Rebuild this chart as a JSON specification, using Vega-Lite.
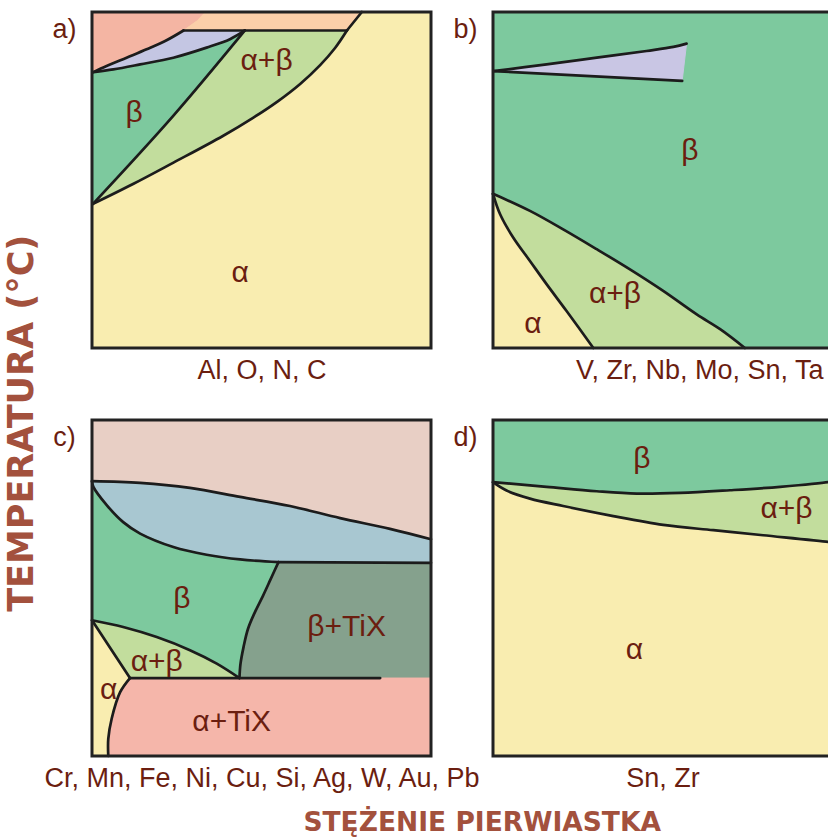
{
"$schema": "https://vega.github.io/schema/vega-lite/v6.json",
"background": "white",
"padding": {"left": 5, "top": 10, "right": 0, "bottom": 0},
"title": {"text": "TEMPERATURA (°C)", "orient": "left", "anchor": "middle", "font": "DejaVu Sans", "fontWeight": "bold", "fontSize": 35, "color": "#A3513D", "offset": 2},
"datasets": {
"frame": [{"x":0,"x2":100,"y":0,"y2":100}],
"a_poly": [
{"p":"a1","x":0,"y":100},{"p":"a1","x":33.3,"y":100},{"p":"a1","x":30.9,"y":97.3},{"p":"a1","x":27,"y":94.5},{"p":"a1","x":22,"y":91.6},{"p":"a1","x":16.1,"y":88.9},{"p":"a1","x":10.2,"y":86.4},{"p":"a1","x":4.3,"y":83.9},{"p":"a1","x":0.4,"y":82.1},{"p":"a1","x":0,"y":82.1},
{"p":"a2","x":33.3,"y":100},{"p":"a2","x":79.6,"y":100},{"p":"a2","x":75.2,"y":94.5},{"p":"a2","x":27,"y":94.5},{"p":"a2","x":30.9,"y":97.3},
{"p":"a3","x":27,"y":94.5},{"p":"a3","x":22,"y":91.6},{"p":"a3","x":16.1,"y":88.9},{"p":"a3","x":10.2,"y":86.4},{"p":"a3","x":4.3,"y":83.9},{"p":"a3","x":0.4,"y":82.1},{"p":"a3","x":6.3,"y":82.9},{"p":"a3","x":14.2,"y":84.4},{"p":"a3","x":24,"y":86.4},{"p":"a3","x":33.8,"y":89.4},{"p":"a3","x":40.7,"y":91.9},{"p":"a3","x":45.1,"y":94.5},
{"p":"a4","x":0,"y":82.1},{"p":"a4","x":0.4,"y":82.1},{"p":"a4","x":6.3,"y":82.9},{"p":"a4","x":14.2,"y":84.4},{"p":"a4","x":24,"y":86.4},{"p":"a4","x":33.8,"y":89.4},{"p":"a4","x":40.7,"y":91.9},{"p":"a4","x":45.1,"y":94.5},{"p":"a4","x":23.9,"y":69},{"p":"a4","x":0.3,"y":42.9},{"p":"a4","x":0,"y":42.9},
{"p":"a5","x":45.1,"y":94.5},{"p":"a5","x":75.2,"y":94.5},{"p":"a5","x":71.7,"y":89.3},{"p":"a5","x":67.3,"y":84.2},{"p":"a5","x":61.4,"y":78.6},{"p":"a5","x":54.9,"y":73.5},{"p":"a5","x":47.5,"y":68.5},{"p":"a5","x":38.6,"y":63.1},{"p":"a5","x":23.9,"y":55.1},{"p":"a5","x":12.1,"y":48.8},{"p":"a5","x":0.3,"y":42.9},{"p":"a5","x":23.9,"y":69}
],
"a_line": [
{"l":"1","x":0.4,"y":82.1},{"l":"1","x":4.3,"y":83.9},{"l":"1","x":10.2,"y":86.4},{"l":"1","x":16.1,"y":88.9},{"l":"1","x":22,"y":91.6},{"l":"1","x":27,"y":94.5},
{"l":"2","x":27,"y":94.5},{"l":"2","x":75.2,"y":94.5},
{"l":"3","x":0.4,"y":82.1},{"l":"3","x":6.3,"y":82.9},{"l":"3","x":14.2,"y":84.4},{"l":"3","x":24,"y":86.4},{"l":"3","x":33.8,"y":89.4},{"l":"3","x":40.7,"y":91.9},{"l":"3","x":45.1,"y":94.5},
{"l":"4","x":45.1,"y":94.5},{"l":"4","x":23.9,"y":69},{"l":"4","x":0.3,"y":42.9},
{"l":"5","x":0.3,"y":42.9},{"l":"5","x":12.1,"y":48.8},{"l":"5","x":23.9,"y":55.1},{"l":"5","x":38.6,"y":63.1},{"l":"5","x":47.5,"y":68.5},{"l":"5","x":54.9,"y":73.5},{"l":"5","x":61.4,"y":78.6},{"l":"5","x":67.3,"y":84.2},{"l":"5","x":71.7,"y":89.3},{"l":"5","x":75.2,"y":94.5},
{"l":"6","x":75.2,"y":94.5},{"l":"6","x":79.6,"y":100}
],
"a_text": [{"t":"β","x":12.4,"y":69.9},{"t":"α+β","x":51.5,"y":85.4},{"t":"α","x":43.7,"y":22.4}],
"b_poly": [
{"p":"b1","x":0.1,"y":82.4},{"p":"b1","x":15.8,"y":84.4},{"p":"b1","x":30.6,"y":86.4},{"p":"b1","x":45.3,"y":88.4},{"p":"b1","x":53.2,"y":89.6},{"p":"b1","x":57.1,"y":90.6},{"p":"b1","x":55.8,"y":79.5},
{"p":"b2","x":0,"y":45.9},{"p":"b2","x":10.9,"y":40.8},{"p":"b2","x":20.7,"y":35.3},{"p":"b2","x":30.6,"y":29.4},{"p":"b2","x":40.4,"y":23.4},{"p":"b2","x":50.2,"y":17},{"p":"b2","x":60.1,"y":10},{"p":"b2","x":67,"y":5.6},{"p":"b2","x":74.3,"y":0},{"p":"b2","x":29.6,"y":0},{"p":"b2","x":21.7,"y":11},{"p":"b2","x":15.8,"y":19},{"p":"b2","x":10.9,"y":25.9},{"p":"b2","x":6,"y":32.8},{"p":"b2","x":2.1,"y":39.8},
{"p":"b3","x":0,"y":45.9},{"p":"b3","x":2.1,"y":39.8},{"p":"b3","x":6,"y":32.8},{"p":"b3","x":10.9,"y":25.9},{"p":"b3","x":15.8,"y":19},{"p":"b3","x":21.7,"y":11},{"p":"b3","x":29.6,"y":0},{"p":"b3","x":0,"y":0}
],
"b_line": [
{"l":"1","x":0.1,"y":82.4},{"l":"1","x":15.8,"y":84.4},{"l":"1","x":30.6,"y":86.4},{"l":"1","x":45.3,"y":88.4},{"l":"1","x":53.2,"y":89.6},{"l":"1","x":57.1,"y":90.6},
{"l":"2","x":0.1,"y":82.4},{"l":"2","x":55.8,"y":79.5},
{"l":"3","x":0,"y":45.9},{"l":"3","x":10.9,"y":40.8},{"l":"3","x":20.7,"y":35.3},{"l":"3","x":30.6,"y":29.4},{"l":"3","x":40.4,"y":23.4},{"l":"3","x":50.2,"y":17},{"l":"3","x":60.1,"y":10},{"l":"3","x":67,"y":5.6},{"l":"3","x":74.3,"y":0},
{"l":"4","x":0,"y":45.9},{"l":"4","x":2.1,"y":39.8},{"l":"4","x":6,"y":32.8},{"l":"4","x":10.9,"y":25.9},{"l":"4","x":15.8,"y":19},{"l":"4","x":21.7,"y":11},{"l":"4","x":29.6,"y":0}
],
"b_text": [{"t":"β","x":58.1,"y":58.6},{"t":"α+β","x":36,"y":16.1},{"t":"α","x":11.8,"y":7.1}],
"c_poly": [
{"p":"c1","x":0,"y":100},{"p":"c1","x":100,"y":100},{"p":"c1","x":100,"y":64.5},{"p":"c1","x":87.9,"y":67.6},{"p":"c1","x":73.2,"y":70.8},{"p":"c1","x":58.4,"y":74.4},{"p":"c1","x":43.7,"y":77.1},{"p":"c1","x":28.9,"y":79.8},{"p":"c1","x":14.2,"y":81.3},{"p":"c1","x":0,"y":81.8},
{"p":"c2","x":0,"y":81.8},{"p":"c2","x":14.2,"y":81.3},{"p":"c2","x":28.9,"y":79.8},{"p":"c2","x":43.7,"y":77.1},{"p":"c2","x":58.4,"y":74.4},{"p":"c2","x":73.2,"y":70.8},{"p":"c2","x":87.9,"y":67.6},{"p":"c2","x":100,"y":64.5},{"p":"c2","x":100,"y":57.5},{"p":"c2","x":55,"y":57.7},{"p":"c2","x":43.7,"y":58.5},{"p":"c2","x":33.8,"y":59.9},{"p":"c2","x":24,"y":62.2},{"p":"c2","x":14.2,"y":66.2},{"p":"c2","x":9.2,"y":69.6},{"p":"c2","x":4.4,"y":74.6},{"p":"c2","x":0.4,"y":80.1},
{"p":"c3","x":0,"y":81.8},{"p":"c3","x":0.4,"y":80.1},{"p":"c3","x":4.4,"y":74.6},{"p":"c3","x":9.2,"y":69.6},{"p":"c3","x":14.2,"y":66.2},{"p":"c3","x":24,"y":62.2},{"p":"c3","x":33.8,"y":59.9},{"p":"c3","x":43.7,"y":58.5},{"p":"c3","x":55,"y":57.7},{"p":"c3","x":52.6,"y":52.4},{"p":"c3","x":50.4,"y":47.6},{"p":"c3","x":48.1,"y":42.9},{"p":"c3","x":46,"y":37.8},{"p":"c3","x":44.7,"y":32.4},{"p":"c3","x":43.8,"y":27.4},{"p":"c3","x":43.5,"y":23.2},{"p":"c3","x":36.8,"y":27.5},{"p":"c3","x":28.9,"y":31.5},{"p":"c3","x":19.1,"y":35.4},{"p":"c3","x":9.2,"y":38.4},{"p":"c3","x":0,"y":40.4},
{"p":"c4","x":55,"y":57.7},{"p":"c4","x":100,"y":57.5},{"p":"c4","x":100,"y":23.2},{"p":"c4","x":43.5,"y":23.2},{"p":"c4","x":43.8,"y":27.4},{"p":"c4","x":44.7,"y":32.4},{"p":"c4","x":46,"y":37.8},{"p":"c4","x":48.1,"y":42.9},{"p":"c4","x":50.4,"y":47.6},{"p":"c4","x":52.6,"y":52.4},
{"p":"c5","x":0,"y":40.4},{"p":"c5","x":9.2,"y":38.4},{"p":"c5","x":19.1,"y":35.4},{"p":"c5","x":28.9,"y":31.5},{"p":"c5","x":36.8,"y":27.5},{"p":"c5","x":43.5,"y":23.2},{"p":"c5","x":11.2,"y":23.2},
{"p":"c6","x":11.2,"y":23.2},{"p":"c6","x":100,"y":23.2},{"p":"c6","x":100,"y":0},{"p":"c6","x":4.8,"y":0},{"p":"c6","x":4.8,"y":5.1},{"p":"c6","x":5.8,"y":11.1},{"p":"c6","x":8.3,"y":19}
],
"c_line": [
{"l":"1","x":0,"y":81.8},{"l":"1","x":14.2,"y":81.3},{"l":"1","x":28.9,"y":79.8},{"l":"1","x":43.7,"y":77.1},{"l":"1","x":58.4,"y":74.4},{"l":"1","x":73.2,"y":70.8},{"l":"1","x":87.9,"y":67.6},{"l":"1","x":100,"y":64.5},
{"l":"2","x":0,"y":81.8},{"l":"2","x":0.4,"y":80.1},{"l":"2","x":4.4,"y":74.6},{"l":"2","x":9.2,"y":69.6},{"l":"2","x":14.2,"y":66.2},{"l":"2","x":24,"y":62.2},{"l":"2","x":33.8,"y":59.9},{"l":"2","x":43.7,"y":58.5},{"l":"2","x":55,"y":57.7},
{"l":"8","x":55,"y":57.7},{"l":"8","x":100,"y":57.5},
{"l":"3","x":55,"y":57.7},{"l":"3","x":52.6,"y":52.4},{"l":"3","x":50.4,"y":47.6},{"l":"3","x":48.1,"y":42.9},{"l":"3","x":46,"y":37.8},{"l":"3","x":44.7,"y":32.4},{"l":"3","x":43.8,"y":27.4},{"l":"3","x":43.5,"y":23.2},
{"l":"4","x":0,"y":40.4},{"l":"4","x":9.2,"y":38.4},{"l":"4","x":19.1,"y":35.4},{"l":"4","x":28.9,"y":31.5},{"l":"4","x":36.8,"y":27.5},{"l":"4","x":43.5,"y":23.2},
{"l":"5","x":0,"y":40.4},{"l":"5","x":11.2,"y":23.2},
{"l":"6","x":11.2,"y":23.2},{"l":"6","x":85,"y":23.2},
{"l":"7","x":11.2,"y":23.2},{"l":"7","x":8.3,"y":19},{"l":"7","x":5.8,"y":11.1},{"l":"7","x":4.8,"y":5.1},{"l":"7","x":4.8,"y":0}
],
"c_text": [{"t":"β","x":26.5,"y":46.8},{"t":"β+TiX","x":75.1,"y":38.4},{"t":"α+β","x":19.1,"y":28},{"t":"α","x":4.9,"y":19.5},{"t":"α+TiX","x":41.2,"y":10.1}],
"d_poly": [
{"p":"d1","x":0,"y":100},{"p":"d1","x":100,"y":100},{"p":"d1","x":100,"y":81.8},{"p":"d1","x":98.9,"y":81.5},{"p":"d1","x":84.7,"y":80.1},{"p":"d1","x":69.9,"y":79.1},{"p":"d1","x":55.2,"y":78.3},{"p":"d1","x":42.4,"y":78.1},{"p":"d1","x":30.6,"y":78.8},{"p":"d1","x":15.8,"y":80.1},{"p":"d1","x":0,"y":81.5},
{"p":"d2","x":0,"y":81.5},{"p":"d2","x":15.8,"y":80.1},{"p":"d2","x":30.6,"y":78.8},{"p":"d2","x":42.4,"y":78.1},{"p":"d2","x":55.2,"y":78.3},{"p":"d2","x":69.9,"y":79.1},{"p":"d2","x":84.7,"y":80.1},{"p":"d2","x":98.9,"y":81.5},{"p":"d2","x":100,"y":81.8},{"p":"d2","x":100,"y":63.5},{"p":"d2","x":98.9,"y":63.7},{"p":"d2","x":79.7,"y":65.7},{"p":"d2","x":65,"y":67.2},{"p":"d2","x":50.2,"y":68.8},{"p":"d2","x":35.5,"y":71.4},{"p":"d2","x":20.7,"y":74.4},{"p":"d2","x":10.9,"y":76.6},{"p":"d2","x":4,"y":79}
],
"d_line": [
{"l":"1","x":0,"y":81.5},{"l":"1","x":15.8,"y":80.1},{"l":"1","x":30.6,"y":78.8},{"l":"1","x":42.4,"y":78.1},{"l":"1","x":55.2,"y":78.3},{"l":"1","x":69.9,"y":79.1},{"l":"1","x":84.7,"y":80.1},{"l":"1","x":98.9,"y":81.5},{"l":"1","x":100,"y":81.8},
{"l":"2","x":0,"y":81.5},{"l":"2","x":4,"y":79},{"l":"2","x":10.9,"y":76.6},{"l":"2","x":20.7,"y":74.4},{"l":"2","x":35.5,"y":71.4},{"l":"2","x":50.2,"y":68.8},{"l":"2","x":65,"y":67.2},{"l":"2","x":79.7,"y":65.7},{"l":"2","x":98.9,"y":63.7},{"l":"2","x":100,"y":63.5}
],
"d_text": [{"t":"β","x":43.9,"y":88.5},{"t":"α+β","x":86.6,"y":73.6},{"t":"α","x":41.7,"y":31.5}]
},
"vconcat": [{
"title": {"text": "STĘŻENIE PIERWIASTKA", "orient": "bottom", "anchor": "middle", "font": "DejaVu Sans", "fontWeight": "bold", "fontSize": 26.5, "color": "#A3513D", "offset": 19, "dx": 44},
"columns": 2,
"spacing": {"row": 72, "column": 62},
"bounds": "flush",
"concat": [
{"width": 339, "height": 336,
 "encoding": {"x": {"field": "x", "type": "quantitative", "scale": {"domain": [0,100], "nice": false}, "axis": {"title": "Al, O, N, C"}},
              "y": {"field": "y", "type": "quantitative", "scale": {"domain": [0,100], "nice": false}, "axis": {"title": "a)"}}},
 "layer": [
  {"data": {"name": "frame"}, "mark": {"type": "rect", "fill": "#F9EDB0", "strokeWidth": 0}, "encoding": {"x2": {"field": "x2"}, "y2": {"field": "y2"}}},
  {"data": {"name": "a_poly"}, "mark": {"type": "line", "strokeWidth": 1}, "encoding": {"order": {"value": null}, "detail": {"field": "p", "type": "nominal"},
    "fill": {"field": "p", "type": "nominal", "legend": null, "scale": {"domain": ["a1","a2","a3","a4","a5","b1","b2","b3","c1","c2","c3","c4","c5","c6","d1","d2"], "range": ["#F4B5A3","#FBCFA9","#C4C6E3","#7DC99E","#C2DD9D","#C9C6E4","#C2DD9D","#F9EDB0","#E8CFC5","#A8C7D1","#7DC99E","#85A18D","#C2DD9D","#F5B6AA","#7DC99E","#C2DD9D"]}},
    "stroke": {"field": "p", "type": "nominal", "legend": null, "scale": {"domain": ["a1","a2","a3","a4","a5","b1","b2","b3","c1","c2","c3","c4","c5","c6","d1","d2"], "range": ["#F4B5A3","#FBCFA9","#C4C6E3","#7DC99E","#C2DD9D","#C9C6E4","#C2DD9D","#F9EDB0","#E8CFC5","#A8C7D1","#7DC99E","#85A18D","#C2DD9D","#F5B6AA","#7DC99E","#C2DD9D"]}}}},
  {"data": {"name": "a_line"}, "mark": {"type": "line", "interpolate": "catmull-rom", "stroke": "#1c1c1c", "strokeWidth": 2.7, "strokeCap": "round", "strokeJoin": "round"}, "encoding": {"order": {"value": null}, "detail": {"field": "l", "type": "nominal"}}},
  {"data": {"name": "frame"}, "mark": {"type": "rect", "filled": false, "stroke": "#222222", "strokeWidth": 3}, "encoding": {"x2": {"field": "x2"}, "y2": {"field": "y2"}}},
  {"data": {"name": "a_text"}, "mark": {"type": "text", "font": "Liberation Sans", "fontSize": 30, "color": "#6B1E10", "baseline": "middle", "align": "center"}, "encoding": {"text": {"field": "t"}}}
 ]},
{"width": 339, "height": 336,
 "encoding": {"x": {"field": "x", "type": "quantitative", "scale": {"domain": [0,100], "nice": false}, "axis": {"title": "V, Zr, Nb, Mo, Sn, Ta", "titleAlign": "right", "titleX": 330}},
              "y": {"field": "y", "type": "quantitative", "scale": {"domain": [0,100], "nice": false}, "axis": {"title": "b)"}}},
 "layer": [
  {"data": {"name": "frame"}, "mark": {"type": "rect", "fill": "#7DC99E", "strokeWidth": 0}, "encoding": {"x2": {"field": "x2"}, "y2": {"field": "y2"}}},
  {"data": {"name": "b_poly"}, "mark": {"type": "line", "strokeWidth": 1}, "encoding": {"order": {"value": null}, "detail": {"field": "p", "type": "nominal"},
    "fill": {"field": "p", "type": "nominal", "legend": null, "scale": {"domain": ["a1","a2","a3","a4","a5","b1","b2","b3","c1","c2","c3","c4","c5","c6","d1","d2"], "range": ["#F4B5A3","#FBCFA9","#C4C6E3","#7DC99E","#C2DD9D","#C9C6E4","#C2DD9D","#F9EDB0","#E8CFC5","#A8C7D1","#7DC99E","#85A18D","#C2DD9D","#F5B6AA","#7DC99E","#C2DD9D"]}},
    "stroke": {"field": "p", "type": "nominal", "legend": null, "scale": {"domain": ["a1","a2","a3","a4","a5","b1","b2","b3","c1","c2","c3","c4","c5","c6","d1","d2"], "range": ["#F4B5A3","#FBCFA9","#C4C6E3","#7DC99E","#C2DD9D","#C9C6E4","#C2DD9D","#F9EDB0","#E8CFC5","#A8C7D1","#7DC99E","#85A18D","#C2DD9D","#F5B6AA","#7DC99E","#C2DD9D"]}}}},
  {"data": {"name": "b_line"}, "mark": {"type": "line", "interpolate": "catmull-rom", "stroke": "#1c1c1c", "strokeWidth": 2.7, "strokeCap": "round", "strokeJoin": "round"}, "encoding": {"order": {"value": null}, "detail": {"field": "l", "type": "nominal"}}},
  {"data": {"name": "frame"}, "mark": {"type": "rect", "filled": false, "stroke": "#222222", "strokeWidth": 3}, "encoding": {"x2": {"field": "x2"}, "y2": {"field": "y2"}}},
  {"data": {"name": "b_text"}, "mark": {"type": "text", "font": "Liberation Sans", "fontSize": 30, "color": "#6B1E10", "baseline": "middle", "align": "center"}, "encoding": {"text": {"field": "t"}}}
 ]},
{"width": 339, "height": 336,
 "encoding": {"x": {"field": "x", "type": "quantitative", "scale": {"domain": [0,100], "nice": false}, "axis": {"title": "Cr, Mn, Fe, Ni, Cu, Si, Ag, W, Au, Pb"}},
              "y": {"field": "y", "type": "quantitative", "scale": {"domain": [0,100], "nice": false}, "axis": {"title": "c)"}}},
 "layer": [
  {"data": {"name": "frame"}, "mark": {"type": "rect", "fill": "#F9EDB0", "strokeWidth": 0}, "encoding": {"x2": {"field": "x2"}, "y2": {"field": "y2"}}},
  {"data": {"name": "c_poly"}, "mark": {"type": "line", "strokeWidth": 1}, "encoding": {"order": {"value": null}, "detail": {"field": "p", "type": "nominal"},
    "fill": {"field": "p", "type": "nominal", "legend": null, "scale": {"domain": ["a1","a2","a3","a4","a5","b1","b2","b3","c1","c2","c3","c4","c5","c6","d1","d2"], "range": ["#F4B5A3","#FBCFA9","#C4C6E3","#7DC99E","#C2DD9D","#C9C6E4","#C2DD9D","#F9EDB0","#E8CFC5","#A8C7D1","#7DC99E","#85A18D","#C2DD9D","#F5B6AA","#7DC99E","#C2DD9D"]}},
    "stroke": {"field": "p", "type": "nominal", "legend": null, "scale": {"domain": ["a1","a2","a3","a4","a5","b1","b2","b3","c1","c2","c3","c4","c5","c6","d1","d2"], "range": ["#F4B5A3","#FBCFA9","#C4C6E3","#7DC99E","#C2DD9D","#C9C6E4","#C2DD9D","#F9EDB0","#E8CFC5","#A8C7D1","#7DC99E","#85A18D","#C2DD9D","#F5B6AA","#7DC99E","#C2DD9D"]}}}},
  {"data": {"name": "c_line"}, "mark": {"type": "line", "interpolate": "catmull-rom", "stroke": "#1c1c1c", "strokeWidth": 2.7, "strokeCap": "round", "strokeJoin": "round"}, "encoding": {"order": {"value": null}, "detail": {"field": "l", "type": "nominal"}}},
  {"data": {"name": "frame"}, "mark": {"type": "rect", "filled": false, "stroke": "#222222", "strokeWidth": 3}, "encoding": {"x2": {"field": "x2"}, "y2": {"field": "y2"}}},
  {"data": {"name": "c_text"}, "mark": {"type": "text", "font": "Liberation Sans", "fontSize": 30, "color": "#6B1E10", "baseline": "middle", "align": "center"}, "encoding": {"text": {"field": "t"}}}
 ]},
{"width": 339, "height": 336,
 "encoding": {"x": {"field": "x", "type": "quantitative", "scale": {"domain": [0,100], "nice": false}, "axis": {"title": "Sn, Zr"}},
              "y": {"field": "y", "type": "quantitative", "scale": {"domain": [0,100], "nice": false}, "axis": {"title": "d)"}}},
 "layer": [
  {"data": {"name": "frame"}, "mark": {"type": "rect", "fill": "#F9EDB0", "strokeWidth": 0}, "encoding": {"x2": {"field": "x2"}, "y2": {"field": "y2"}}},
  {"data": {"name": "d_poly"}, "mark": {"type": "line", "strokeWidth": 1}, "encoding": {"order": {"value": null}, "detail": {"field": "p", "type": "nominal"},
    "fill": {"field": "p", "type": "nominal", "legend": null, "scale": {"domain": ["a1","a2","a3","a4","a5","b1","b2","b3","c1","c2","c3","c4","c5","c6","d1","d2"], "range": ["#F4B5A3","#FBCFA9","#C4C6E3","#7DC99E","#C2DD9D","#C9C6E4","#C2DD9D","#F9EDB0","#E8CFC5","#A8C7D1","#7DC99E","#85A18D","#C2DD9D","#F5B6AA","#7DC99E","#C2DD9D"]}},
    "stroke": {"field": "p", "type": "nominal", "legend": null, "scale": {"domain": ["a1","a2","a3","a4","a5","b1","b2","b3","c1","c2","c3","c4","c5","c6","d1","d2"], "range": ["#F4B5A3","#FBCFA9","#C4C6E3","#7DC99E","#C2DD9D","#C9C6E4","#C2DD9D","#F9EDB0","#E8CFC5","#A8C7D1","#7DC99E","#85A18D","#C2DD9D","#F5B6AA","#7DC99E","#C2DD9D"]}}}},
  {"data": {"name": "d_line"}, "mark": {"type": "line", "interpolate": "catmull-rom", "stroke": "#1c1c1c", "strokeWidth": 2.7, "strokeCap": "round", "strokeJoin": "round"}, "encoding": {"order": {"value": null}, "detail": {"field": "l", "type": "nominal"}}},
  {"data": {"name": "frame"}, "mark": {"type": "rect", "filled": false, "stroke": "#222222", "strokeWidth": 3}, "encoding": {"x2": {"field": "x2"}, "y2": {"field": "y2"}}},
  {"data": {"name": "d_text"}, "mark": {"type": "text", "font": "Liberation Sans", "fontSize": 30, "color": "#6B1E10", "baseline": "middle", "align": "center"}, "encoding": {"text": {"field": "t"}}}
 ]}
]
}],
"config": {
 "view": {"stroke": null},
 "axis": {"domain": false, "ticks": false, "labels": false, "grid": false, "titleFont": "Liberation Sans", "titleFontSize": 27, "titleFontWeight": "normal", "titleColor": "#6B1E10"},
 "axisX": {"titlePadding": 9},
 "axisY": {"titleAngle": 0, "titleX": -28, "titleY": 4, "titleBaseline": "top", "titleAlign": "center"}
}
}
